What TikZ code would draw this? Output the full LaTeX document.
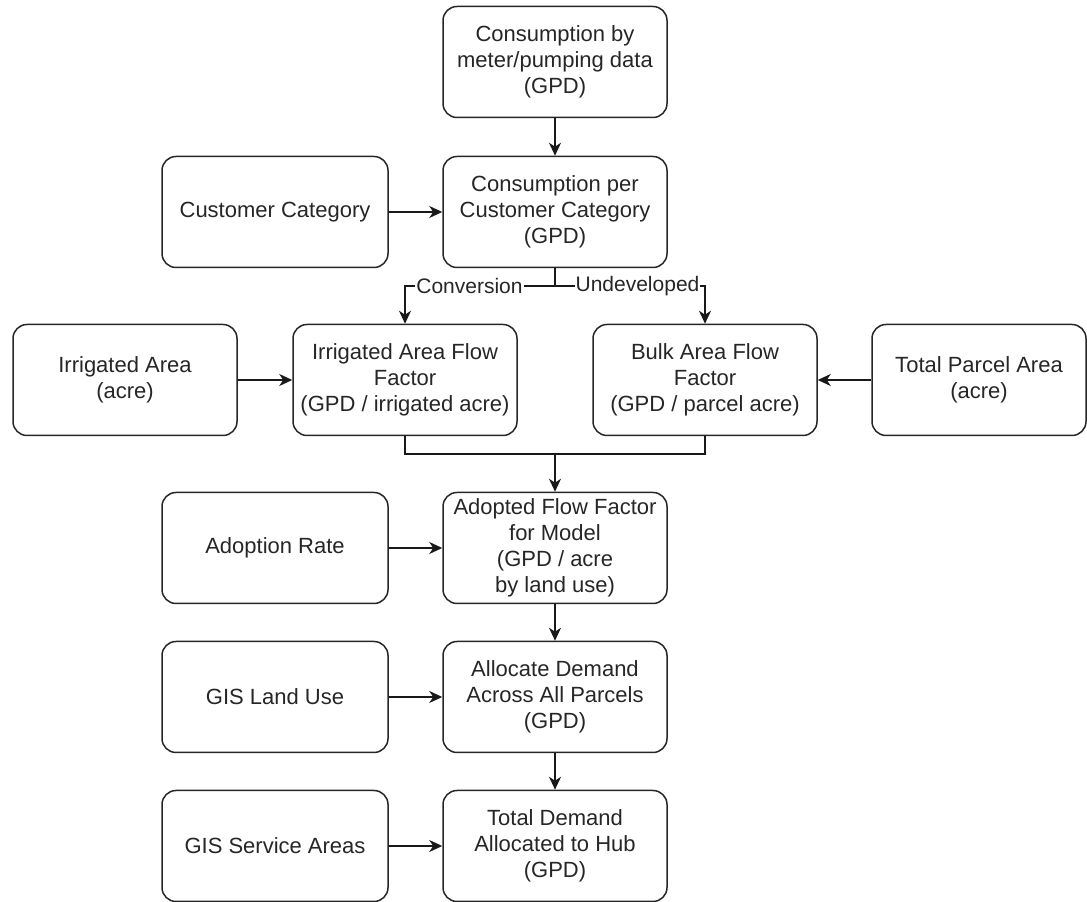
\documentclass[tikz,border=0pt]{standalone}
\usepackage{fontspec}
\setmainfont{Liberation Sans}
\usetikzlibrary{arrows.meta}
\begin{document}
\begin{tikzpicture}[x=1pt,y=1pt,
  box/.style={draw=black!85, line width=1.5pt, rounded corners=14pt, minimum width=224pt, minimum height=111pt, align=center, inner sep=2pt, text=black!85, font=\fontsize{22}{26}\selectfont},
  arr/.style={draw=black!90, line width=1.6pt, -{Stealth[length=13pt,width=12pt,inset=4pt]}},
  conn/.style={draw=black!90, line width=1.6pt},
  lbl/.style={fill=white, inner sep=1pt, text=black!85, font=\fontsize{21}{24}\selectfont}]
\useasboundingbox (0,0) rectangle (1087,902);
\node[box] (top)  at (555,840) {Consumption by\\meter/pumping data\\(GPD)};
\node[box] (cpc)  at (555,690) {Consumption per\\Customer Category\\(GPD)};
\node[box, minimum width=226pt] (cc)   at (275,690) {Customer Category};
\node[box] (ia)   at (125,522) {Irrigated Area\\(acre)};
\node[box] (iaff) at (405,522) {Irrigated Area Flow\\Factor\\(GPD / irrigated acre)};
\node[box] (baff) at (705,522) {Bulk Area Flow\\Factor\\(GPD / parcel acre)};
\node[box, minimum width=214pt] (tpa)  at (979,522) {Total Parcel Area\\(acre)};
\node[box, minimum width=226pt] (ar)   at (275,354) {Adoption Rate};
\node[box] (aff)  at (555,354) {Adopted Flow Factor\\for Model\\(GPD / acre\\by land use)};
\node[box, minimum width=226pt] (gl)   at (275,205) {GIS Land Use};
\node[box] (ad)   at (555,205) {Allocate Demand\\Across All Parcels\\(GPD)};
\node[box, minimum width=226pt] (gs)   at (275,56) {GIS Service Areas};
\node[box] (td)   at (555,56) {Total Demand\\Allocated to Hub\\(GPD)};
\coordinate (split) at (555,616);
\coordinate (sl) at (iaff.north |- split);
\coordinate (sr) at (baff.north |- split);
\coordinate (m) at (555,448);
\draw[arr] (top) -- (cpc);
\draw[arr] (cc) -- (cpc);
\draw[conn] (cpc.south) -- (split);
\draw[arr] (split) -- node[lbl, pos=0.57]{Conversion} (sl) -- (iaff.north);
\draw[arr] (split) -- node[lbl, pos=0.55]{Undeveloped} (sr) -- (baff.north);
\draw[arr] (ia) -- (iaff);
\draw[arr] (tpa) -- (baff);
\draw[conn] (iaff.south) |- (m);
\draw[conn] (baff.south) |- (m);
\draw[arr] (m) -- (aff.north);
\draw[arr] (ar) -- (aff);
\draw[arr] (aff) -- (ad);
\draw[arr] (gl) -- (ad);
\draw[arr] (ad) -- (td);
\draw[arr] (gs) -- (td);
\end{tikzpicture}
\end{document}
